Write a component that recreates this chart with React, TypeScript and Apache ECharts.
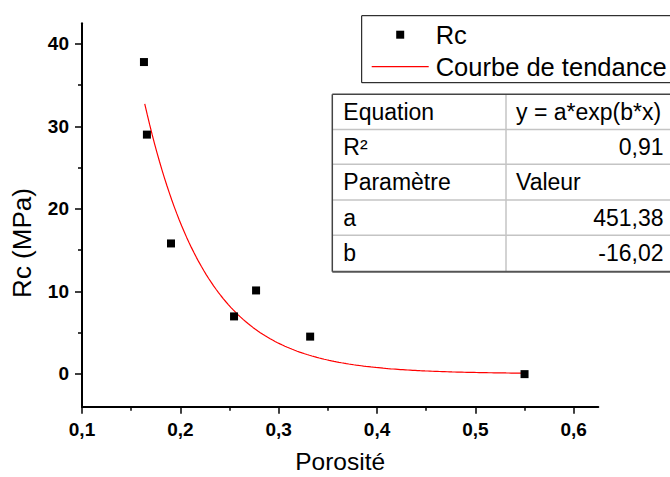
import React, { useEffect, useRef } from "react";
import * as echarts from "echarts";

const FONT = "'Liberation Sans', Arial, Helvetica, sans-serif";

// Measured data (Porosité, Rc in MPa)
const porosite = [0.163, 0.166, 0.1905, 0.2546, 0.277, 0.332, 0.55];
const rc = [37.8, 29.0, 15.8, 6.95, 10.1, 4.5, -0.05];

// Fit parameters shown in the table
const A = 451.38;
const B = -16.02;
const R2 = 0.91;
const fitRange = [0.1638, 0.55];

const xMajor = [0.1, 0.2, 0.3, 0.4, 0.5, 0.6];
const xMinor = [0.15, 0.25, 0.35, 0.45, 0.55];
const yMajor = [0, 10, 20, 30, 40];
const yMinor = [5, 15, 25, 35];

const fmt = (v: number, d: number) => v.toFixed(d).replace(".", ",");

const tableLeft = ["Equation", "R²", "Paramètre", "a", "b"];
const tableRight = ["y = a*exp(b*x)", fmt(R2, 2), "Valeur", fmt(A, 2), fmt(B, 2)];
const tableRightAlign = ["left", "right", "left", "right", "right"];

export default function App() {
  const ref = useRef<HTMLDivElement>(null);
  useEffect(() => {
    if (!ref.current) return;
    const chart = echarts.init(ref.current, undefined, { renderer: "svg" });

    const trend: number[][] = [];
    for (let x = fitRange[0]; x <= fitRange[1] + 1e-9; x += 0.0025) {
      trend.push([x, A * Math.exp(B * x)]);
    }
    const scatter = porosite.map((x, i) => [x, rc[i]]);

    const rowTops = [94.3, 129.5, 164.3, 200, 235.2, 271.7];
    const tLeft = 332.3;
    const tDiv = 506;
    const tRight = 690;
    const elements: any[] = [];
    elements.push({
      type: "rect",
      shape: { x: tLeft, y: rowTops[0], width: tRight - tLeft, height: rowTops[5] - rowTops[0] },
      style: { fill: "#fff" },
      z: 50,
    });
    for (let i = 1; i < 5; i++) {
      elements.push({
        type: "line",
        shape: { x1: tLeft, y1: rowTops[i], x2: tRight, y2: rowTops[i] },
        style: { stroke: "#c4c4c4", lineWidth: 1.5 },
        z: 51,
      });
    }
    elements.push({
      type: "line",
      shape: { x1: tDiv, y1: rowTops[0], x2: tDiv, y2: rowTops[5] },
      style: { stroke: "#c4c4c4", lineWidth: 1.5 },
      z: 51,
    });
    elements.push({
      type: "line",
      shape: { x1: tLeft, y1: rowTops[0], x2: tRight, y2: rowTops[0] },
      style: { stroke: "#444", lineWidth: 1.5 },
      z: 52,
    });
    elements.push({
      type: "line",
      shape: { x1: tLeft, y1: rowTops[5], x2: tRight, y2: rowTops[5] },
      style: { stroke: "#555", lineWidth: 2 },
      z: 52,
    });
    elements.push({
      type: "line",
      shape: { x1: tLeft, y1: rowTops[0], x2: tLeft, y2: rowTops[5] },
      style: { stroke: "#444", lineWidth: 1.5 },
      z: 52,
    });
    for (let i = 0; i < 5; i++) {
      const cy = (rowTops[i] + rowTops[i + 1]) / 2;
      elements.push({
        type: "text",
        x: 343.3,
        y: cy,
        z: 53,
        style: {
          text: tableLeft[i],
          fontSize: 23,
          fontFamily: FONT,
          fill: "#000",
          align: "left",
          verticalAlign: "middle",
        },
      });
      const right = tableRightAlign[i] === "right";
      elements.push({
        type: "text",
        x: right ? 663.5 : 516,
        y: cy,
        z: 53,
        style: {
          text: tableRight[i],
          fontSize: 23,
          fontFamily: FONT,
          fill: "#000",
          align: right ? "right" : "left",
          verticalAlign: "middle",
        },
      });
    }
    elements.push({
      type: "text",
      x: 21.5,
      y: 243,
      rotation: Math.PI / 2,
      style: {
        text: "Rc (MPa)",
        fontSize: 26,
        fontFamily: FONT,
        fill: "#000",
        align: "center",
        verticalAlign: "middle",
      },
    });

    const axisLineStyle = { color: "#000", width: 2 };

    chart.setOption({
      animation: false,
      backgroundColor: "#fff",
      grid: {
        left: 82,
        right: 71.7,
        top: 23.3,
        bottom: 70.3,
        containLabel: false,
        outerBoundsMode: "none",
      },
      legend: {
        orient: "vertical",
        left: 361.7,
        top: 15.7,
        padding: [6, 20, 3, 10],
        itemGap: 6,
        itemWidth: 57,
        itemHeight: 8,
        borderColor: "#000",
        borderWidth: 1,
        backgroundColor: "#fff",
        selectedMode: false,
        textStyle: { fontSize: 25.5, fontFamily: FONT, color: "#000", lineHeight: 22, padding: [0, 0, 0, 2] },
        data: [
          { name: "Rc", icon: "path://M0,0H8V8H0Z", itemStyle: { color: "#000", opacity: 1 } },
          { name: "Courbe de tendance", icon: "path://M0,0H57V1.2H0Z", itemStyle: { color: "#ff0000" } },
        ],
      },
      xAxis: [
        {
          type: "value",
          min: 0.1,
          max: 0.625,
          position: "bottom",
          name: "Porosité",
          nameLocation: "middle",
          nameGap: 45,
          nameTextStyle: { fontSize: 24.5, fontFamily: FONT, color: "#000", lineHeight: 20 },
          axisLine: { show: true, onZero: false, lineStyle: axisLineStyle },
          axisTick: { show: true, length: 7, lineStyle: { color: "#000", width: 1.5 }, customValues: xMajor },
          axisLabel: {
            show: true,
            customValues: xMajor,
            margin: 13,
            fontSize: 19,
            fontWeight: "bold",
            fontFamily: FONT,
            color: "#000",
            formatter: (v: number) => fmt(v, 1),
          },
          splitLine: { show: false },
        },
        {
          type: "value",
          min: 0.1,
          max: 0.625,
          position: "bottom",
          axisLine: { show: false, onZero: false },
          axisTick: { show: true, length: 4, lineStyle: { color: "#000", width: 1.5 }, customValues: xMinor },
          axisLabel: { show: false },
          splitLine: { show: false },
        },
      ],
      yAxis: [
        {
          type: "value",
          min: -4,
          max: 42.5,
          position: "left",
          axisLine: { show: true, onZero: false, lineStyle: axisLineStyle },
          axisTick: { show: true, length: 7, lineStyle: { color: "#000", width: 1.5 }, customValues: yMajor },
          axisLabel: {
            show: true,
            customValues: yMajor,
            margin: 13,
            fontSize: 19,
            fontWeight: "bold",
            fontFamily: FONT,
            color: "#000",
          },
          splitLine: { show: false },
        },
        {
          type: "value",
          min: -4,
          max: 42.5,
          position: "left",
          axisLine: { show: false, onZero: false },
          axisTick: { show: true, length: 4, lineStyle: { color: "#000", width: 1.5 }, customValues: yMinor },
          axisLabel: { show: false },
          splitLine: { show: false },
        },
      ],
      graphic: { elements },
      series: [
        {
          name: "Rc",
          type: "scatter",
          data: scatter,
          symbol: "rect",
          symbolSize: 8,
          itemStyle: { color: "#000", opacity: 1 },
          z: 4,
        },
        {
          name: "Courbe de tendance",
          type: "line",
          data: trend,
          showSymbol: false,
          symbol: "none",
          lineStyle: { color: "#ff0000", width: 1.2 },
          itemStyle: { color: "#ff0000" },
          z: 3,
        },
      ],
    });
    return () => chart.dispose();
  }, []);
  return (
    <div
      ref={ref}
      style={{ position: "fixed", left: 0, top: 0, width: 670, height: 477 }}
    />
  );
}
